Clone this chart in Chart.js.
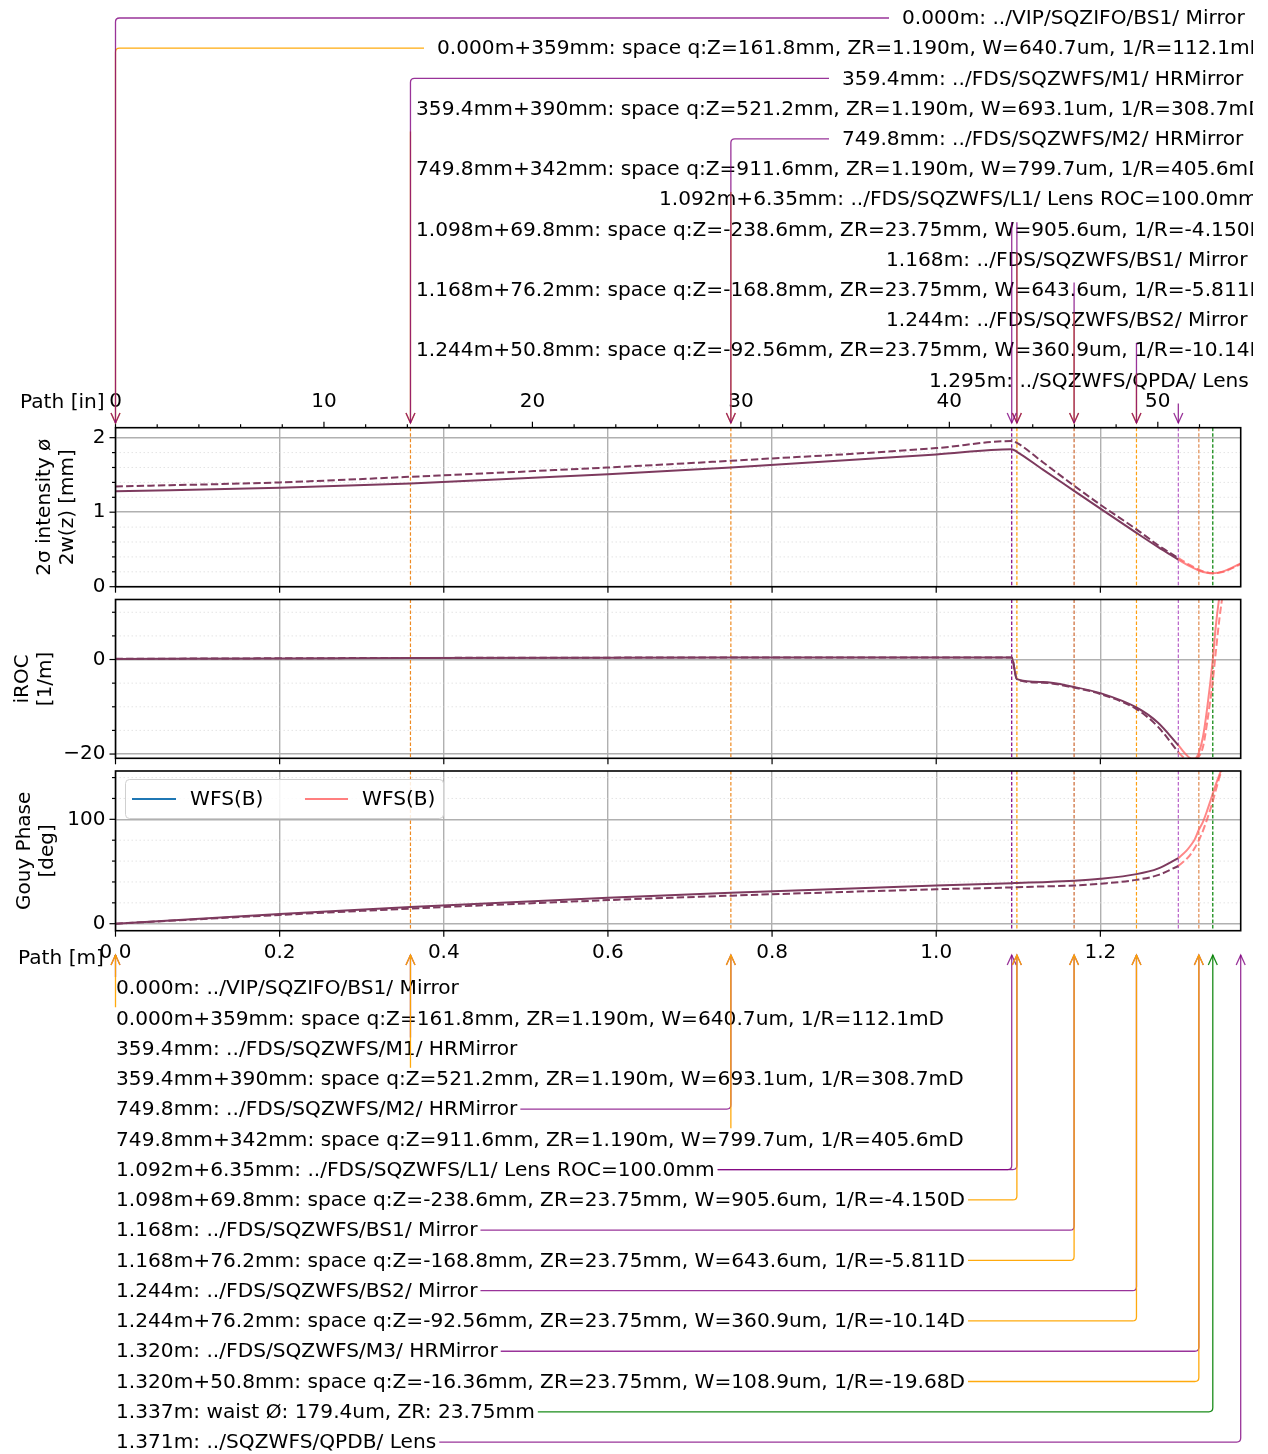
<!DOCTYPE html>
<html>
<head>
<meta charset="utf-8">
<script src="https://cdn.jsdelivr.net/npm/chart.js@4/dist/chart.umd.min.js"></script>
<style>
body { margin: 0; background: #fff; }
#wrap { position: relative; width: 1268px; height: 1454px; overflow: hidden; }
#wrap canvas { position: absolute; left: 0; top: 0; }
</style>
</head>
<body>
<div id="wrap">
<canvas id="cW" width="1268" height="1454"></canvas>
<canvas id="cR" width="1268" height="1454"></canvas>
<canvas id="cG" width="1268" height="1454"></canvas>
<canvas id="cA" width="1268" height="1454"></canvas>
</div>
<script>
var FONT = '"DejaVu Sans", "Liberation Sans", sans-serif';
var xMax = 1.371;

// beam path, common section [m]
var xMain = [0, 0.2, 0.3594, 0.6, 0.7498, 1.0, 1.092, 1.0983, 1.13, 1.168, 1.2, 1.244, 1.27, 1.295];
// 2w(z) [mm]
var wSolid  = [1.281, 1.327, 1.386, 1.508, 1.599, 1.775, 1.845, 1.811, 1.571, 1.287, 1.047, 0.722, 0.534, 0.363];
var wDashed = [1.345, 1.400, 1.475, 1.600, 1.690, 1.860, 1.955, 1.930, 1.670, 1.355, 1.100, 0.770, 0.560, 0.385];
var xEndW = [1.295, 1.31, 1.32, 1.33, 1.337, 1.35, 1.36, 1.371];
var wEndSolid  = [0.363, 0.269, 0.218, 0.186, 0.179, 0.206, 0.252, 0.313];
var wEndDashed = [0.385, 0.285, 0.228, 0.190, 0.180, 0.200, 0.245, 0.305];
// iROC [1/m]
var rocSolid  = [0.112, 0.234, 0.309, 0.382, 0.406, 0.42, 0.42, -4.15, -4.78, -5.81, -7.11, -10.14, -13.32, -18.13];
var rocDashed = [0.14, 0.26, 0.33, 0.40, 0.42, 0.43, 0.43, -4.2, -4.9, -5.95, -7.3, -10.5, -14.2, -19.6];
var xEndR = [1.295, 1.30, 1.305, 1.31, 1.315, 1.32, 1.325, 1.33, 1.337, 1.34, 1.345, 1.35];
var rocEndSolid  = [-18.13, -19.22, -20.22, -20.9, -20.95, -19.68, -16.4, -10.5, 0, 5.9, 13.24, 18.0];
var rocEndDashed = [-19.6, -20.5, -21.2, -21.5, -21.3, -20.5, -18.5, -13.5, -4.5, 0.5, 8.5, 15.0];
// Gouy phase [deg]
var gouySolid  = [0, 9.2, 15.9, 24.9, 29.7, 36.6, 38.8, 39.0, 39.8, 41.1, 43.0, 47.5, 52.8, 62.8];
var gouyDashed = [0, 8.4, 14.5, 22.6, 26.9, 33.0, 34.8, 35.0, 35.7, 36.6, 38.3, 42.0, 46.5, 55.3];
var xEndG = [1.295, 1.305, 1.31, 1.315, 1.32, 1.325, 1.33, 1.335, 1.34, 1.345, 1.35];
var gouyEndSolid  = [62.8, 70.0, 74.9, 80.8, 90.0, 97.6, 108.1, 119.8, 131.8, 142.6, 152.5];
var gouyEndDashed = [55.3, 62.0, 66.5, 72.5, 80.0, 89.0, 100.0, 112.0, 126.0, 140.0, 152.0];

var legendLabels = ['WFS(B)', 'WFS(B)'];

// optic positions along the path [m]
var elemX = [0.3594, 0.7498, 1.092, 1.0983, 1.168, 1.244, 1.295, 1.320, 1.337];
var elemColors = ['#ee8a22', '#ee8a22', '#800080', '#ff9900', '#cc6630', '#ffa010', '#b860c8', '#e08a50', '#008000'];

var topLabels = [
  '0.000m: ../VIP/SQZIFO/BS1/ Mirror',
  '0.000m+359mm: space q:Z=161.8mm, ZR=1.190m, W=640.7um, 1/R=112.1mD',
  '359.4mm: ../FDS/SQZWFS/M1/ HRMirror',
  '359.4mm+390mm: space q:Z=521.2mm, ZR=1.190m, W=693.1um, 1/R=308.7mD',
  '749.8mm: ../FDS/SQZWFS/M2/ HRMirror',
  '749.8mm+342mm: space q:Z=911.6mm, ZR=1.190m, W=799.7um, 1/R=405.6mD',
  '1.092m+6.35mm: ../FDS/SQZWFS/L1/ Lens ROC=100.0mm',
  '1.098m+69.8mm: space q:Z=-238.6mm, ZR=23.75mm, W=905.6um, 1/R=-4.150D',
  '1.168m: ../FDS/SQZWFS/BS1/ Mirror',
  '1.168m+76.2mm: space q:Z=-168.8mm, ZR=23.75mm, W=643.6um, 1/R=-5.811D',
  '1.244m: ../FDS/SQZWFS/BS2/ Mirror',
  '1.244m+50.8mm: space q:Z=-92.56mm, ZR=23.75mm, W=360.9um, 1/R=-10.14D',
  '1.295m: ../SQZWFS/QPDA/ Lens'
];
var topTargets = [[0], [0], [0.3594], [0.3594], [0.7498], [0.7498], [1.092, 1.0983], [1.0983], [1.168], [1.168], [1.244], [1.244], [1.295]];
var topKinds = ['e', 's', 'e', 's', 'e', 's', 'e', 's', 'e', 's', 'e', 's', 'e'];

var bottomLabels = [
  '0.000m: ../VIP/SQZIFO/BS1/ Mirror',
  '0.000m+359mm: space q:Z=161.8mm, ZR=1.190m, W=640.7um, 1/R=112.1mD',
  '359.4mm: ../FDS/SQZWFS/M1/ HRMirror',
  '359.4mm+390mm: space q:Z=521.2mm, ZR=1.190m, W=693.1um, 1/R=308.7mD',
  '749.8mm: ../FDS/SQZWFS/M2/ HRMirror',
  '749.8mm+342mm: space q:Z=911.6mm, ZR=1.190m, W=799.7um, 1/R=405.6mD',
  '1.092m+6.35mm: ../FDS/SQZWFS/L1/ Lens ROC=100.0mm',
  '1.098m+69.8mm: space q:Z=-238.6mm, ZR=23.75mm, W=905.6um, 1/R=-4.150D',
  '1.168m: ../FDS/SQZWFS/BS1/ Mirror',
  '1.168m+76.2mm: space q:Z=-168.8mm, ZR=23.75mm, W=643.6um, 1/R=-5.811D',
  '1.244m: ../FDS/SQZWFS/BS2/ Mirror',
  '1.244m+76.2mm: space q:Z=-92.56mm, ZR=23.75mm, W=360.9um, 1/R=-10.14D',
  '1.320m: ../FDS/SQZWFS/M3/ HRMirror',
  '1.320m+50.8mm: space q:Z=-16.36mm, ZR=23.75mm, W=108.9um, 1/R=-19.68D',
  '1.337m: waist \u00d8: 179.4um, ZR: 23.75mm',
  '1.371m: ../SQZWFS/QPDB/ Lens'
];
var bottomTargets = [[0], [0], [0.3594], [0.3594], [0.7498], [0.7498], [1.092, 1.0983], [1.0983], [1.168], [1.168], [1.244], [1.244], [1.320], [1.320], [1.337], [1.371]];
var bottomKinds = ['e', 's', 'e', 's', 'e', 's', 'e', 's', 'e', 's', 'e', 's', 'e', 's', 'w', 'e'];

// layout
var topTextX = [902, 437, 842, 416, 842, 416, 659, 416, 886, 416, 886, 416, 929];
var kindColor = { e: 'rgba(128,0,128,0.8)', s: 'rgba(255,165,0,0.95)', w: 'rgba(0,128,0,0.9)' };
var MAIN = '#7d3a5e', END = 'rgba(255,95,95,0.75)';
var TXT = '20.15px ' + FONT;

function pts(xs, ys) {
  return xs.map(function (x, i) { return { x: x, y: ys[i] }; });
}

function minorValues(min, max, step, major) {
  var out = [];
  for (var k = Math.ceil(min / step); k * step <= max; k++) {
    var v = k * step;
    var r = v / major;
    if (Math.abs(r - Math.round(r)) > 1e-6) out.push(v);
  }
  return out;
}

function drawLegend(ctx) {
  ctx.save();
  ctx.beginPath();
  ctx.roundRect(125.5, 779.5, 318, 39, 4);
  ctx.fillStyle = 'rgba(255,255,255,0.85)';
  ctx.fill();
  ctx.strokeStyle = '#d0d0d0';
  ctx.lineWidth = 1;
  ctx.stroke();
  ctx.lineWidth = 2;
  ctx.strokeStyle = '#1f77b4';
  ctx.beginPath(); ctx.moveTo(132, 799); ctx.lineTo(176, 799); ctx.stroke();
  ctx.strokeStyle = '#ff7f7f';
  ctx.beginPath(); ctx.moveTo(305, 799); ctx.lineTo(348, 799); ctx.stroke();
  ctx.fillStyle = '#000';
  ctx.font = TXT;
  ctx.textBaseline = 'middle';
  ctx.fillText(legendLabels[0], 190, 800);
  ctx.fillText(legendLabels[1], 362, 800);
  ctx.restore();
}

function decor(o) {
  return {
    id: 'decor',
    beforeDatasetsDraw: function (chart) {
      var ctx = chart.ctx, a = chart.chartArea, xs = chart.scales.x, ys = chart.scales.y;
      ctx.save();
      ctx.strokeStyle = '#dddddd';
      ctx.lineWidth = 0.8;
      ctx.setLineDash([1.5, 2.5]);
      minorValues(ys.min, ys.max, o.yMinor, o.yMajor).forEach(function (v) {
        var py = ys.getPixelForValue(v);
        ctx.beginPath(); ctx.moveTo(a.left, py); ctx.lineTo(a.right, py); ctx.stroke();
      });
      ctx.lineWidth = 1.2;
      ctx.setLineDash([3.5, 2]);
      elemX.forEach(function (v, i) {
        var px = xs.getPixelForValue(v);
        ctx.strokeStyle = elemColors[i];
        ctx.beginPath(); ctx.moveTo(px, a.top); ctx.lineTo(px, a.bottom); ctx.stroke();
      });
      ctx.restore();
    },
    afterDraw: function (chart) {
      var ctx = chart.ctx, a = chart.chartArea, xs = chart.scales.x, ys = chart.scales.y;
      ctx.save();
      ctx.strokeStyle = '#000';
      ctx.lineWidth = 1.2;
      ys.ticks.forEach(function (t) {
        var py = ys.getPixelForValue(t.value);
        ctx.beginPath(); ctx.moveTo(a.left - 6, py); ctx.lineTo(a.left, py); ctx.stroke();
      });
      minorValues(ys.min, ys.max, o.yMinor, o.yMajor).forEach(function (v) {
        var py = ys.getPixelForValue(v);
        ctx.beginPath(); ctx.moveTo(a.left - 3.5, py); ctx.lineTo(a.left, py); ctx.stroke();
      });
      xs.ticks.forEach(function (t) {
        var px = xs.getPixelForValue(t.value);
        ctx.beginPath(); ctx.moveTo(px, a.bottom); ctx.lineTo(px, a.bottom + 6); ctx.stroke();
      });
      if (o.inch) {
        var xi = chart.scales.xin;
        xi.ticks.forEach(function (t) {
          var px = xi.getPixelForValue(t.value);
          ctx.beginPath(); ctx.moveTo(px, a.top); ctx.lineTo(px, a.top - 6); ctx.stroke();
        });
        minorValues(xi.min, xi.max, 2, 10).forEach(function (v) {
          var px = xi.getPixelForValue(v);
          ctx.beginPath(); ctx.moveTo(px, a.top); ctx.lineTo(px, a.top - 3.5); ctx.stroke();
        });
        ctx.fillStyle = '#000';
        ctx.font = TXT;
        ctx.textBaseline = 'middle';
        ctx.fillText('Path [in]', 20, 403);
      }
      if (o.xLabels) {
        ctx.fillStyle = '#000';
        ctx.font = TXT;
        ctx.textBaseline = 'middle';
        ctx.fillText('Path [m]', 18, 959);
      }
      ctx.lineWidth = 1.6;
      ctx.strokeRect(a.left, a.top, a.right - a.left, a.bottom - a.top);
      ctx.restore();
      if (o.legend) drawLegend(ctx);
    }
  };
}

function tickLabel(v) {
  return (v < 0 ? '\u2212' : '') + Math.abs(v);
}

function makePanel(id, o) {
  var scales = {
    x: {
      type: 'linear', position: 'bottom', min: 0, max: xMax,
      ticks: { display: !!o.xLabels, stepSize: 0.2, includeBounds: false, padding: 10, color: '#000',
               font: { family: FONT, size: 20 }, maxRotation: 0,
               callback: function (v) { return v.toFixed(1); } },
      grid: { color: '#b0b0b0', lineWidth: 1.4, drawTicks: false },
      border: { display: false },
      afterFit: function (s) { s.height = o.xLabels ? 40 : 0; }
    },
    y: {
      type: 'linear', min: o.yMin, max: o.yMax,
      ticks: { stepSize: o.yMajor, includeBounds: false, padding: 10, color: '#000',
               font: { family: FONT, size: 20 }, callback: tickLabel },
      grid: { color: '#b0b0b0', lineWidth: 1.4, drawTicks: false },
      border: { display: false },
      title: { display: true, text: o.title, color: '#000',
               font: { family: FONT, size: 20, lineHeight: 1.15 }, padding: { top: o.titlePad, bottom: 0 } },
      afterFit: function (s) { s.width = 115.5; }
    }
  };
  if (o.inch) {
    scales.xin = {
      type: 'linear', position: 'top', min: 0, max: xMax / 0.0254,
      ticks: { stepSize: 10, includeBounds: false, padding: 14, color: '#000',
               font: { family: FONT, size: 20 }, maxRotation: 0 },
      grid: { drawOnChartArea: false, drawTicks: false },
      border: { display: false },
      afterFit: function (s) { s.height = 40; }
    };
  }
  var lw = 2, dash = [7.4, 3.2];
  return new Chart(document.getElementById(id), {
    type: 'line',
    data: {
      datasets: [
        { data: pts(xMain, o.main[0]), borderColor: MAIN, borderWidth: lw, pointRadius: 0, cubicInterpolationMode: 'monotone' },
        { data: pts(xMain, o.main[1]), borderColor: MAIN, borderWidth: lw, borderDash: dash, pointRadius: 0, cubicInterpolationMode: 'monotone' },
        { data: pts(o.xEnd, o.end[0]), borderColor: END, borderWidth: lw, pointRadius: 0, cubicInterpolationMode: 'monotone' },
        { data: pts(o.xEnd, o.end[1]), borderColor: END, borderWidth: lw, borderDash: dash, pointRadius: 0, cubicInterpolationMode: 'monotone' }
      ]
    },
    options: {
      animation: false,
      responsive: false,
      events: [],
      parsing: false,
      layout: { padding: { left: 0, right: 27.3, top: o.padTop, bottom: o.padBottom } },
      plugins: { legend: { display: false }, tooltip: { enabled: false } },
      scales: scales
    },
    plugins: [decor(o)]
  });
}

var chartW = makePanel('cW', {
  yMin: 0, yMax: 2.134, yMajor: 1, yMinor: 0.2,
  title: ['2\u03c3 intensity \u00f8', '2w(z) [mm]'], titlePad: 33.5,
  main: [wSolid, wDashed], xEnd: xEndW, end: [wEndSolid, wEndDashed],
  inch: true, padTop: 427.7 - 40, padBottom: 1454 - 586.7
});
var chartR = makePanel('cR', {
  yMin: -20.9, yMax: 12.7, yMajor: 20, yMinor: 5,
  title: ['iROC', '[1/m]'], titlePad: 11,
  main: [rocSolid, rocDashed], xEnd: xEndR, end: [rocEndSolid, rocEndDashed],
  padTop: 599.5, padBottom: 1454 - 758.3
});
var chartG = makePanel('cG', {
  yMin: -6.7, yMax: 146.3, yMajor: 100, yMinor: 20,
  title: ['Gouy Phase', '[deg]'], titlePad: 13.5,
  main: [gouySolid, gouyDashed], xEnd: xEndG, end: [gouyEndSolid, gouyEndDashed],
  xLabels: true, legend: true, padTop: 771, padBottom: 1454 - 930.7 - 40
});

function arrowHead(ctx, px, py, dir) {
  ctx.beginPath();
  ctx.moveTo(px - 4.5, py - dir * 10);
  ctx.lineTo(px, py);
  ctx.lineTo(px + 4.5, py - dir * 10);
  ctx.stroke();
}

function drawAnnotations() {
  var ctx = document.getElementById('cA').getContext('2d');
  var xs = chartG.scales.x;
  var r = 4, topTip = 423, botTip = 955;
  ctx.font = TXT;
  ctx.textBaseline = 'middle';
  ctx.textAlign = 'left';
  ctx.lineWidth = 1.3;

  // upper block
  ctx.save();
  ctx.beginPath(); ctx.rect(0, 0, 1253, 1454); ctx.clip();
  ctx.fillStyle = '#000';
  topLabels.forEach(function (s, i) { ctx.fillText(s, topTextX[i], 19 + i * 30.2); });
  for (var i = topLabels.length - 1; i >= 0; i--) {
    var y = 18 + i * 30.2, tl = topTextX[i];
    ctx.strokeStyle = kindColor[topKinds[i]];
    topTargets[i].forEach(function (t) {
      var px = xs.getPixelForValue(t);
      ctx.beginPath();
      if (px < tl - 13) {
        ctx.moveTo(tl - 13, y);
        ctx.lineTo(px + r, y);
        ctx.quadraticCurveTo(px, y, px, y + r);
      } else {
        ctx.moveTo(px, y + 23);
      }
      ctx.lineTo(px, topTip);
      ctx.stroke();
      arrowHead(ctx, px, topTip, 1);
    });
  }
  ctx.restore();

  // lower block
  ctx.fillStyle = '#000';
  bottomLabels.forEach(function (s, i) { ctx.fillText(s, 116, 989 + i * 30.27); });
  bottomLabels.forEach(function (s, i) {
    var y = 988 + i * 30.27;
    var tr = 116 + ctx.measureText(s).width;
    ctx.strokeStyle = kindColor[bottomKinds[i]];
    bottomTargets[i].forEach(function (t) {
      var px = xs.getPixelForValue(t);
      ctx.beginPath();
      if (px > tr + 8) {
        ctx.moveTo(tr + 3, y);
        ctx.lineTo(px - r, y);
        ctx.quadraticCurveTo(px, y, px, y - r);
      } else {
        ctx.moveTo(px, y - 11);
      }
      ctx.lineTo(px, botTip);
      ctx.stroke();
      arrowHead(ctx, px, botTip, -1);
    });
  });
}
drawAnnotations();
</script>
</body>
</html>
